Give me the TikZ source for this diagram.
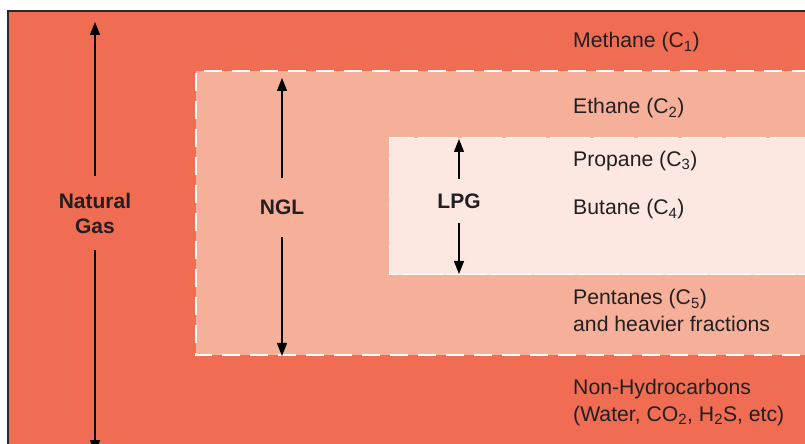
\documentclass[tikz,border=0pt]{standalone}
\usepackage{fontspec}
\setmainfont{Liberation Sans}
\usetikzlibrary{arrows.meta}
\definecolor{outerc}{RGB}{240,108,83}
\definecolor{midc}{RGB}{246,176,154}
\definecolor{innerc}{RGB}{252,232,224}
\definecolor{txt}{RGB}{35,31,32}
\definecolor{edgec}{RGB}{45,40,40}
\begin{document}
\begin{tikzpicture}[x=1bp,y=-1bp,
  arr/.style={line width=1.2bp, draw=black, -{Triangle[length=13bp,width=10bp]}},
  lab/.style={font=\bfseries\fontsize{21bp}{25bp}\selectfont, text=txt, align=center, inner sep=0pt},
  item/.style={font=\fontsize{21.2bp}{27bp}\selectfont, text=txt, anchor=base west, inner sep=0pt}]
\useasboundingbox (0,0) rectangle (805,444);
\clip (0,0) rectangle (805,444);
% boxes
\fill[outerc] (8,11) rectangle (810,450);
\draw[edgec, line width=1.6bp] (8,450) -- (8,11) -- (810,11);
\fill[midc] (196,71) rectangle (810,355);
\draw[white, line width=1.3bp, dash pattern=on 18bp off 10bp] (810,71) -- (196,71) -- (196,355) -- (810,355);
\fill[innerc] (389,138) rectangle (810,275);
\draw[white, line width=1bp, dash pattern=on 40bp off 4bp] (810,138) -- (389,138) -- (389,275) -- (810,275);
% range labels
\node[lab, minimum height=74bp] (ng) at (95,213) {Natural\\Gas};
\node[lab, minimum height=59bp] (ngl) at (282,207.5) {NGL};
\node[lab, minimum height=44bp] (lpg) at (459,201) {LPG};
\coordinate (ngtop) at (95,22);
\coordinate (ngbot) at (95,453);
\coordinate (ngltop) at (282,78);
\coordinate (nglbot) at (282,356);
\coordinate (lpgtop) at (459,139);
\coordinate (lpgbot) at (459,274);
\draw[arr] (ng.north) -- (ngtop);
\draw[arr] (ng.south) -- (ngbot);
\draw[arr] (ngl.north) -- (ngltop);
\draw[arr] (ngl.south) -- (nglbot);
\draw[arr] (lpg.north) -- (lpgtop);
\draw[arr] (lpg.south) -- (lpgbot);
% components
\node[item] (meth) at (573,48) {Methane (C\textsubscript{1})};
\node[item] (eth) at (573,114) {Ethane (C\textsubscript{2})};
\node[item] (prop) at (573,166.5) {Propane (C\textsubscript{3})};
\node[item] (but) at (573,215) {Butane (C\textsubscript{4})};
\node[item] (pent) at (573,305) {Pentanes (C\textsubscript{5})};
\node[item] (heavy) at (573,332) {and heavier fractions};
\node[item] (nonh) at (573,394) {Non-Hydrocarbons};
\node[item] (water) at (573,421) {(Water, CO\textsubscript{2}, H\textsubscript{2}S, etc)};
\end{tikzpicture}
\end{document}
